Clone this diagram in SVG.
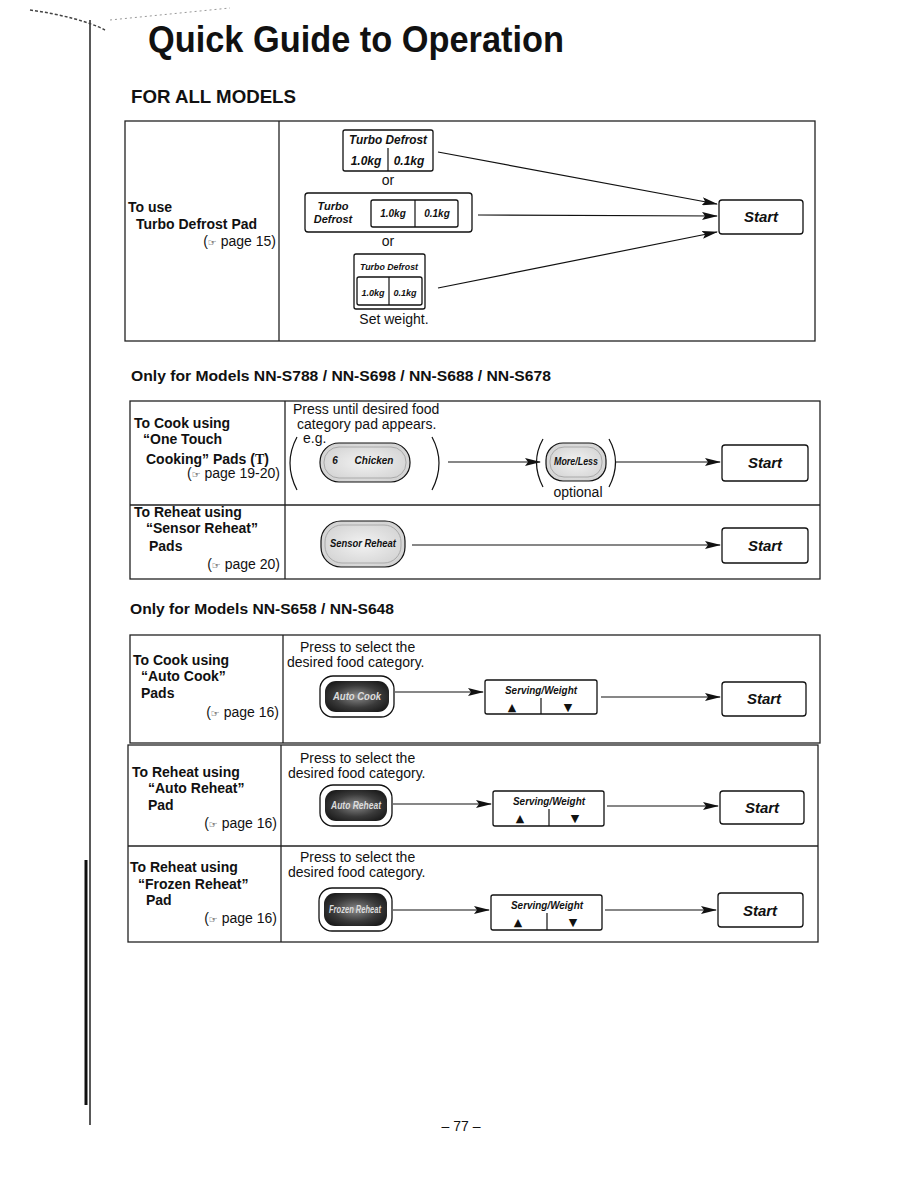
<svg xmlns="http://www.w3.org/2000/svg" width="918" height="1188" viewBox="0 0 918 1188">
<defs>
<marker id="ah" markerUnits="userSpaceOnUse" markerWidth="16" markerHeight="8" refX="15" refY="4" orient="auto">
<path d="M0,0 L16,4 L0,8 L3,4 z" fill="#111"/>
</marker>
<radialGradient id="dark" cx="50%" cy="50%" r="60%">
<stop offset="0" stop-color="#8a8a8a"/>
<stop offset="0.6" stop-color="#3a3a3a"/>
<stop offset="1" stop-color="#1a1a1a"/>
</radialGradient>
<radialGradient id="light" cx="50%" cy="50%" r="60%">
<stop offset="0" stop-color="#f2f2f2"/>
<stop offset="1" stop-color="#d0d0d0"/>
</radialGradient>
</defs>
<style>
text{font-family:"Liberation Sans",Arial,sans-serif;fill:#111}
.t{font-size:14px}
.b{font-size:14px;font-weight:bold}
.h{font-weight:bold}
.pi{font-weight:bold;font-style:italic}
.st{font-size:15px;font-weight:bold;font-style:italic}
.box{fill:#fff;stroke:#111;stroke-width:1.3}
.tb{fill:none;stroke:#222;stroke-width:1.3}
.ln{stroke:#111;stroke-width:1.2;fill:none}
.con{stroke:#111;stroke-width:1.2;fill:none;marker-end:url(#ah)}
.hand{font-family:"DejaVu Sans",sans-serif;font-size:10px}
.tri{font-family:"DejaVu Sans",sans-serif;font-size:11px}
</style>

<g id="margin">
<path d="M90,20 L90,1125" stroke="#222" stroke-width="1.5" fill="none"/>
<path d="M86,860 L86,1105" stroke="#111" stroke-width="3" fill="none"/>
<path d="M30,10 C60,14 90,22 105,30" stroke="#444" stroke-width="1.5" fill="none" stroke-dasharray="3 2"/>
<path d="M110,20 L230,8" stroke="#999" stroke-width="1" fill="none" stroke-dasharray="2 3"/>
</g>

<g id="title">
<text x="148" y="52" class="h" font-size="37" textLength="416" lengthAdjust="spacingAndGlyphs">Quick Guide to Operation</text>
<text x="131" y="103" class="h" font-size="18" textLength="165" lengthAdjust="spacingAndGlyphs">FOR ALL MODELS</text>
</g>

<!-- Section 1 -->
<g id="table1">
<rect x="125" y="121" width="690" height="220" class="tb"/>
<line x1="279" y1="121" x2="279" y2="341" class="tb"/>
<text x="128" y="212" class="b">To use</text>
<text x="136" y="229" class="b">Turbo Defrost Pad</text>
<text x="276" y="246" class="t" text-anchor="end">(<tspan class="hand">☞</tspan> page 15)</text>
</g>

<g id="pad1">
<rect x="343" y="130" width="90" height="41" rx="2" class="box"/>
<line x1="388" y1="148" x2="388" y2="171" class="ln"/>
<text x="388" y="144" class="pi" font-size="12" text-anchor="middle" textLength="78" lengthAdjust="spacingAndGlyphs">Turbo Defrost</text>
<text x="366" y="165" class="pi" font-size="12" text-anchor="middle">1.0kg</text>
<text x="409" y="165" class="pi" font-size="12" text-anchor="middle">0.1kg</text>
</g>
<text x="388" y="185" class="t" text-anchor="middle">or</text>

<g id="pad2">
<rect x="305" y="193" width="167" height="39" rx="3" class="box"/>
<text x="333" y="210" class="pi" font-size="11" text-anchor="middle">Turbo</text>
<text x="333" y="223" class="pi" font-size="11" text-anchor="middle">Defrost</text>
<rect x="371" y="200" width="87" height="27" rx="2" class="box"/>
<line x1="415" y1="200" x2="415" y2="227" class="ln"/>
<text x="393" y="217" class="pi" font-size="10" text-anchor="middle">1.0kg</text>
<text x="437" y="217" class="pi" font-size="10" text-anchor="middle">0.1kg</text>
</g>
<text x="388" y="246" class="t" text-anchor="middle">or</text>

<g id="pad3">
<rect x="354" y="254" width="71" height="55" rx="2" class="box"/>
<text x="389" y="270" class="pi" font-size="9" text-anchor="middle" textLength="58" lengthAdjust="spacingAndGlyphs">Turbo Defrost</text>
<rect x="357" y="277" width="65" height="28" rx="2" class="box"/>
<line x1="389" y1="277" x2="389" y2="305" class="ln"/>
<text x="373" y="296" class="pi" font-size="9" text-anchor="middle">1.0kg</text>
<text x="405" y="296" class="pi" font-size="9" text-anchor="middle">0.1kg</text>
</g>
<text x="394" y="324" class="t" text-anchor="middle">Set weight.</text>

<g id="start1">
<rect x="719" y="200" width="84" height="34" rx="3" class="box"/>
<text x="761" y="222" class="st" text-anchor="middle">Start</text>
</g>

<!-- Section 2 -->
<text x="131" y="381" class="h" font-size="15" textLength="420" lengthAdjust="spacingAndGlyphs">Only for Models NN-S788 / NN-S698 / NN-S688 / NN-S678</text>

<g id="table2">
<rect x="130" y="401" width="690" height="178" class="tb"/>
<line x1="130" y1="505" x2="820" y2="505" class="tb"/>
<line x1="285" y1="401" x2="285" y2="579" class="tb"/>
<text x="134" y="428" class="b">To Cook using</text>
<text x="143" y="444" class="b">“One Touch</text>
<text x="146" y="464" class="b">Cooking” Pads (<tspan font-family="Liberation Serif,serif" font-weight="bold">T</tspan>)</text>
<text x="280" y="478" class="t" text-anchor="end">(<tspan class="hand">☞</tspan> page 19-20)</text>
<text x="134" y="517" class="b">To Reheat using</text>
<text x="146" y="533" class="b">“Sensor Reheat”</text>
<text x="149" y="551" class="b">Pads</text>
<text x="280" y="569" class="t" text-anchor="end">(<tspan class="hand">☞</tspan> page 20)</text>
<text x="293" y="414" class="t">Press until desired food</text>
<text x="297" y="429" class="t">category pad appears.</text>
<text x="303" y="443" class="t">e.g.</text>
<text x="578" y="497" class="t" text-anchor="middle">optional</text>
</g>

<g id="chicken">
<path d="M297,437 Q283,463 297,490" class="ln" stroke-width="1.5"/>
<rect x="320" y="443" width="90" height="39" rx="19" fill="url(#light)" stroke="#111" stroke-width="1.2"/>
<rect x="324" y="447" width="82" height="31" rx="15" fill="none" stroke="#aaa" stroke-width="1"/>
<text x="335" y="464" class="pi" font-size="10" text-anchor="middle">6</text>
<text x="374" y="464" class="pi" font-size="10" text-anchor="middle">Chicken</text>
<path d="M432,437 Q446,463 432,490" class="ln" stroke-width="1.5"/>
</g>

<g id="moreless">
<path d="M543,439 Q530,462 543,487" class="ln" stroke-width="1.5"/>
<rect x="546" y="443" width="60" height="38" rx="17" fill="url(#light)" stroke="#111" stroke-width="1.2"/>
<rect x="550" y="447" width="52" height="30" rx="14" fill="none" stroke="#aaa" stroke-width="1"/>
<text x="576" y="465" class="pi" font-size="10" text-anchor="middle" textLength="44" lengthAdjust="spacingAndGlyphs">More/Less</text>
<path d="M609,439 Q622,462 609,487" class="ln" stroke-width="1.5"/>
</g>

<g id="start2">
<rect x="722" y="445" width="86" height="36" rx="3" class="box"/>
<text x="765" y="468" class="st" text-anchor="middle">Start</text>
</g>

<g id="sensor">
<rect x="321" y="521" width="84" height="46" rx="20" fill="url(#light)" stroke="#111" stroke-width="1.2"/>
<rect x="325" y="525" width="76" height="38" rx="17" fill="none" stroke="#aaa" stroke-width="1"/>
<text x="363" y="547" class="pi" font-size="10" text-anchor="middle" textLength="66" lengthAdjust="spacingAndGlyphs">Sensor Reheat</text>
</g>

<g id="start3">
<rect x="722" y="528" width="86" height="35" rx="3" class="box"/>
<text x="765" y="551" class="st" text-anchor="middle">Start</text>
</g>

<!-- Section 3 -->
<text x="130" y="614" class="h" font-size="15" textLength="264" lengthAdjust="spacingAndGlyphs">Only for Models NN-S658 / NN-S648</text>

<g id="table3">
<rect x="130" y="635" width="690" height="108" class="tb"/>
<line x1="283" y1="635" x2="283" y2="743" class="tb"/>
<text x="133" y="665" class="b">To Cook using</text>
<text x="141" y="681" class="b">“Auto Cook”</text>
<text x="141" y="698" class="b">Pads</text>
<text x="279" y="717" class="t" text-anchor="end">(<tspan class="hand">☞</tspan> page 16)</text>
<text x="300" y="652" class="t">Press to select the</text>
<text x="287" y="667" class="t">desired food category.</text>
</g>

<g id="autocook">
<rect x="320" y="676" width="74" height="41" rx="13" fill="#fff" stroke="#111" stroke-width="1.3"/>
<rect x="325" y="681" width="64" height="31" rx="11" fill="url(#dark)"/>
<text x="357" y="700" class="pi" font-size="10" text-anchor="middle" style="fill:#ddd" textLength="48" lengthAdjust="spacingAndGlyphs">Auto Cook</text>
</g>

<g id="serving1">
<rect x="485" y="680" width="112" height="34" rx="2" class="box"/>
<text x="541" y="694" class="pi" font-size="10" text-anchor="middle" textLength="72" lengthAdjust="spacingAndGlyphs">Serving/Weight</text>
<line x1="541" y1="698" x2="541" y2="714" class="ln"/>
<text x="512" y="711" class="tri" text-anchor="middle">▲</text>
<text x="568" y="711" class="tri" text-anchor="middle">▼</text>
</g>

<g id="start4">
<rect x="722" y="682" width="84" height="34" rx="3" class="box"/>
<text x="764" y="704" class="st" text-anchor="middle">Start</text>
</g>

<!-- Section 4 -->
<g id="table4">
<rect x="128" y="745" width="690" height="197" class="tb"/>
<line x1="128" y1="846" x2="818" y2="846" class="tb"/>
<line x1="281" y1="745" x2="281" y2="942" class="tb"/>
<text x="132" y="777" class="b">To Reheat using</text>
<text x="148" y="793" class="b">“Auto Reheat”</text>
<text x="148" y="810" class="b">Pad</text>
<text x="277" y="828" class="t" text-anchor="end">(<tspan class="hand">☞</tspan> page 16)</text>
<text x="300" y="763" class="t">Press to select the</text>
<text x="288" y="778" class="t">desired food category.</text>
<text x="130" y="872" class="b">To Reheat using</text>
<text x="138" y="889" class="b">“Frozen Reheat”</text>
<text x="146" y="905" class="b">Pad</text>
<text x="277" y="923" class="t" text-anchor="end">(<tspan class="hand">☞</tspan> page 16)</text>
<text x="300" y="862" class="t">Press to select the</text>
<text x="288" y="877" class="t">desired food category.</text>
</g>

<g id="autoreheat">
<rect x="320" y="785" width="72" height="41" rx="13" fill="#fff" stroke="#111" stroke-width="1.3"/>
<rect x="325" y="790" width="62" height="31" rx="11" fill="url(#dark)"/>
<text x="356" y="809" class="pi" font-size="10" text-anchor="middle" style="fill:#ddd" textLength="50" lengthAdjust="spacingAndGlyphs">Auto Reheat</text>
</g>

<g id="serving2">
<rect x="493" y="791" width="111" height="35" rx="2" class="box"/>
<text x="549" y="805" class="pi" font-size="10" text-anchor="middle" textLength="72" lengthAdjust="spacingAndGlyphs">Serving/Weight</text>
<line x1="549" y1="809" x2="549" y2="826" class="ln"/>
<text x="520" y="822" class="tri" text-anchor="middle">▲</text>
<text x="575" y="822" class="tri" text-anchor="middle">▼</text>
</g>

<g id="start5">
<rect x="720" y="791" width="84" height="33" rx="3" class="box"/>
<text x="762" y="813" class="st" text-anchor="middle">Start</text>
</g>

<g id="frozenreheat">
<rect x="319" y="888" width="73" height="43" rx="13" fill="#fff" stroke="#111" stroke-width="1.3"/>
<rect x="324" y="893" width="63" height="33" rx="11" fill="url(#dark)"/>
<text x="355" y="913" class="pi" font-size="10" text-anchor="middle" style="fill:#ddd" textLength="52" lengthAdjust="spacingAndGlyphs">Frozen Reheat</text>
</g>

<g id="serving3">
<rect x="491" y="895" width="111" height="35" rx="2" class="box"/>
<text x="547" y="909" class="pi" font-size="10" text-anchor="middle" textLength="72" lengthAdjust="spacingAndGlyphs">Serving/Weight</text>
<line x1="547" y1="913" x2="547" y2="930" class="ln"/>
<text x="518" y="926" class="tri" text-anchor="middle">▲</text>
<text x="573" y="926" class="tri" text-anchor="middle">▼</text>
</g>

<g id="start6">
<rect x="718" y="893" width="85" height="34" rx="3" class="box"/>
<text x="760" y="916" class="st" text-anchor="middle">Start</text>
</g>

<g id="connectors">
<line x1="438" y1="152" x2="717" y2="204" class="con"/>
<line x1="478" y1="215" x2="717" y2="216" class="con"/>
<line x1="438" y1="288" x2="717" y2="232" class="con"/>
<line x1="448" y1="462" x2="540" y2="462" class="con"/>
<line x1="616" y1="462" x2="720" y2="462" class="con"/>
<line x1="412" y1="545" x2="720" y2="545" class="con"/>
<line x1="395" y1="692" x2="483" y2="692" class="con"/>
<line x1="601" y1="697" x2="720" y2="697" class="con"/>
<line x1="393" y1="804" x2="491" y2="804" class="con"/>
<line x1="607" y1="806" x2="718" y2="806" class="con"/>
<line x1="393" y1="910" x2="489" y2="910" class="con"/>
<line x1="605" y1="910" x2="716" y2="910" class="con"/>
</g>

<text x="461" y="1131" class="t" text-anchor="middle">– 77 –</text>
</svg>
